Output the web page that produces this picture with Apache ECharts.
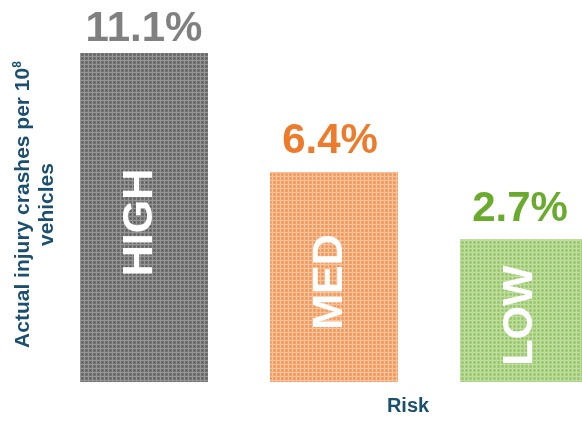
<!DOCTYPE html>
<html>
<head>
<meta charset="utf-8">
<script src="https://cdn.jsdelivr.net/npm/echarts@6/dist/echarts.min.js"></script>
<style>
  html, body { margin: 0; padding: 0; background: #ffffff; overflow: hidden; }
  #chart { width: 619px; height: 421px; }
</style>
</head>
<body>
<div id="chart"></div>
<script>
// Risk groups and their injury crash rates (bar heights)
const categories = ['HIGH', 'MED', 'LOW'];
const crashRates = [33.2, 21.2, 14.4];
// Share shown above each bar
const shares = [11.1, 6.4, 2.7];

// Per-group colours: [base, light, dark] for the dotted fill, plus label colour
const fillColors = [
  ['#727272', '#959595', '#525252'],
  ['#f4a46b', '#f8c39a', '#ec8a45'],
  ['#a4ce79', '#bfdd9e', '#89bc59']
];
const shareColors = ['#808080', '#ee7b2b', '#6aab2e'];

const FONT = '"Liberation Sans", Arial, sans-serif';
const TITLE_COLOR = '#1b4f70';

// Small repeating tile giving the stippled look of the bars
function makePattern(c) {
  const cv = document.createElement('canvas');
  cv.width = 4; cv.height = 4;
  const g = cv.getContext('2d');
  g.fillStyle = c[0];
  g.fillRect(0, 0, 4, 4);
  g.fillStyle = c[1];
  g.fillRect(0, 0, 4, 1);
  g.fillRect(0, 0, 1, 4);
  g.fillStyle = c[2];
  g.fillRect(2, 2, 1, 1);
  return { image: cv, repeat: 'repeat' };
}

const barData = crashRates.map((v, i) => ({
  value: v,
  itemStyle: { color: makePattern(fillColors[i]) }
}));

const shareOffsets = [[0, 0], [-4, 0], [-4, 0]];
const shareDistances = [3, 9, 9];
const shareData = crashRates.map((v, i) => ({
  value: v,
  label: {
    color: shareColors[i],
    offset: shareOffsets[i],
    distance: shareDistances[i]
  }
}));

const chart = echarts.init(document.getElementById('chart'), null, { renderer: 'canvas' });
chart.setOption({
  animation: false,
  backgroundColor: '#ffffff',
  grid: { left: 49, right: 0, top: 53, bottom: 36, containLabel: false },
  xAxis: {
    type: 'category',
    data: categories,
    axisLine: { show: false },
    axisTick: { show: false },
    axisLabel: { show: false },
    name: 'Risk',
    nameLocation: 'middle',
    nameGap: 14,
    nameTextStyle: {
      fontFamily: FONT, fontWeight: 'bold', fontSize: 20, color: TITLE_COLOR,
      padding: [0, 0, 0, 148]
    }
  },
  yAxis: {
    type: 'value',
    min: 0,
    max: 33.2,
    axisLine: { show: false },
    axisTick: { show: false },
    axisLabel: { show: false },
    splitLine: { show: false },
    name: '{t|Actual injury crashes per 10}{s|8}\n{t|vehicles}',
    nameLocation: 'middle',
    nameRotate: 90,
    nameGap: -10,
    nameTextStyle: {
      align: 'center',
      lineHeight: 24,
      padding: [0, 0, 0, 26],
      rich: {
        t: { fontFamily: FONT, fontWeight: 'bold', fontSize: 21, color: TITLE_COLOR, lineHeight: 24 },
        s: { fontFamily: FONT, fontWeight: 'bold', fontSize: 12, color: TITLE_COLOR, lineHeight: 24, padding: [0, 0, 10, 0] }
      }
    }
  },
  series: [
    {
      type: 'bar',
      data: barData,
      barWidth: 128,
      label: {
        show: true,
        position: 'inside',
        rotate: 90,
        offset: [-5, -4],
        formatter: p => categories[p.dataIndex],
        fontFamily: FONT,
        fontWeight: 'bold',
        fontSize: 43,
        color: '#ffffff'
      }
    },
    {
      type: 'bar',
      data: shareData,
      barWidth: 128,
      barGap: '-100%',
      silent: true,
      itemStyle: { color: 'rgba(0,0,0,0)' },
      label: {
        show: true,
        position: 'top',
        formatter: p => shares[p.dataIndex].toFixed(1) + '%',
        fontFamily: FONT,
        fontWeight: 'bold',
        fontSize: 42
      }
    }
  ]
});
</script>
</body>
</html>
